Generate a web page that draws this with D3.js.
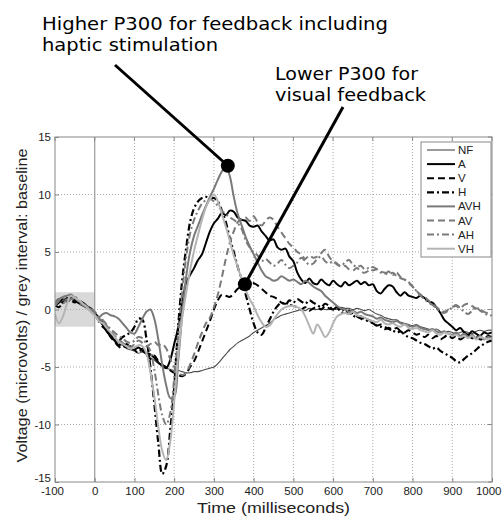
<!DOCTYPE html>
<html><head><meta charset="utf-8">
<script src="https://cdn.jsdelivr.net/npm/d3@7"></script>
<style>body{margin:0;background:#fff}svg{display:block}</style>
</head><body>
<svg id="c" width="502" height="519"></svg>
<script>
// time grid (ms), one sample every 10 ms
const times = d3.range(-100, 1001, 10);
const xTicks = [-100,0,100,200,300,400,500,600,700,800,900,1000];
const yTicks = [-15,-10,-5,0,5,10,15];
const seriesNames = ["NF","A","V","H","AVH","AV","AH","VH"];

const NF = [0.5,0.8,0.6,0.9,1.0,0.7,0.5,0.3,0.1,-0.2,
 -0.5,-0.9,-1.4,-1.8,-2.2,-2.6,-2.9,-3.1,-3.4,-3.5,
 -3.6,-3.8,-3.7,-3.9,-4.2,-4.4,-4.7,-4.9,-5.1,-5.2,
 -5.3,-5.3,-5.4,-5.5,-5.5,-5.4,-5.4,-5.3,-5.2,-5.1,
 -5.0,-4.7,-4.3,-3.9,-3.5,-3.2,-2.9,-2.7,-2.5,-2.3,
 -2.0,-1.8,-1.6,-1.4,-1.2,-0.9,-0.7,-0.5,-0.4,-0.3,
 -0.2,-0.1,0.0,-0.1,0.1,0.0,0.0,0.1,0.0,0.0,
 0.1,0.0,0.2,0.1,0.1,0.0,0.1,0.0,-0.1,0.0,
 -0.2,-0.4,-0.5,-0.7,-0.8,-0.9,-0.9,-1.1,-1.2,-1.3,
 -1.4,-1.3,-1.5,-1.6,-1.7,-1.8,-1.7,-1.9,-2.0,-1.9,
 -2.0,-2.1,-2.0,-1.9,-2.0,-2.1,-1.9,-1.8,-1.9,-1.8,
 -1.8];
const A = [0.3,0.6,0.9,0.7,1.0,0.8,0.6,0.6,0.3,0.1,
 -0.3,-0.8,-1.3,-1.9,-2.3,-2.7,-3.1,-3.0,-3.3,-3.2,
 -3.5,-3.3,-3.6,-3.8,-3.9,-4.2,-4.6,-4.9,-5.1,-4.4,
 -3.0,-1.6,0.5,2.3,3.0,3.6,4.3,4.8,5.8,6.8,
 7.5,7.9,8.4,8.2,8.6,8.5,8.0,7.8,7.7,7.3,
 7.2,7.3,6.8,6.4,6.0,6.1,5.4,5.2,5.3,4.6,
 4.2,3.2,2.6,2.3,2.7,2.3,2.2,2.6,2.3,2.1,
 2.5,2.2,2.0,2.4,2.1,2.3,2.5,2.2,2.4,2.1,
 2.2,1.6,1.4,1.8,2.1,2.0,1.5,1.2,1.5,1.2,
 1.1,1.0,1.2,1.0,0.7,0.6,0.2,-0.3,-0.9,-1.2,
 -1.5,-1.8,-1.6,-2.0,-2.2,-1.9,-2.1,-2.3,-2.0,-2.1,
 -2.0];
const V = [0.4,0.2,0.6,0.9,0.8,0.6,0.9,0.5,0.2,0.0,
 -0.4,-1.0,-1.5,-1.8,-2.4,-2.8,-3.2,-3.4,-3.0,-3.3,
 -3.5,-3.8,-3.4,-3.9,-4.3,-4.0,-4.5,-4.8,-5.0,-5.3,
 -5.5,-5.7,-5.8,-5.6,-5.0,-4.5,-3.7,-2.8,-1.9,-1.0,
 0.0,0.8,1.3,1.2,1.1,1.4,1.8,2.0,2.2,2.4,
 2.3,2.1,1.8,1.5,1.2,1.1,0.9,0.6,0.5,0.4,
 0.3,0.2,0.0,0.2,-0.1,0.1,0.2,0.0,0.3,0.1,
 0.0,-0.1,0.1,-0.2,-0.4,-0.3,-0.6,-0.8,-1.0,-0.9,
 -1.2,-1.4,-1.3,-1.5,-1.7,-1.8,-1.6,-1.9,-2.0,-1.8,
 -2.0,-2.2,-2.1,-2.4,-2.2,-2.5,-2.3,-2.6,-2.4,-2.2,
 -2.5,-2.3,-2.6,-2.4,-2.2,-2.5,-2.3,-2.6,-2.5,-2.3,
 -2.4];
const H = [0.5,0.9,0.6,1.0,0.7,0.9,0.6,0.4,0.2,0.0,
 -0.3,-0.7,-1.2,-1.8,-2.1,-2.5,-2.7,-2.4,-2.2,-2.0,
 -1.5,-0.8,-0.9,-2.5,-5.0,-8.2,-11.6,-14.3,-13.6,-10.5,
 -6.8,-1.5,2.5,5.3,7.6,8.8,9.4,9.7,9.8,9.7,
 9.7,9.4,8.6,7.6,6.2,5.0,3.7,2.6,1.3,0.0,
 -1.2,-2.0,-2.2,-1.6,-0.9,-0.2,0.3,0.6,0.4,0.8,
 0.6,0.9,0.7,0.5,0.8,0.6,0.4,0.2,0.5,0.3,
 0.0,0.2,-0.2,-0.3,-0.1,-0.5,-0.7,-0.6,-0.9,-1.0,
 -1.2,-1.4,-1.5,-1.7,-1.6,-1.8,-2.0,-1.9,-2.2,-2.4,
 -2.5,-2.7,-2.9,-3.0,-3.2,-3.4,-3.3,-3.6,-3.8,-4.0,
 -4.2,-4.5,-4.6,-4.3,-4.0,-3.8,-3.5,-3.2,-3.0,-2.8,
 -2.7];
const AVH = [0.6,0.9,1.1,1.2,1.3,1.0,0.7,0.5,0.2,0.0,
 -0.5,-0.7,-0.4,-0.3,-0.5,-0.6,-0.8,-1.2,-1.6,-2.0,
 -2.1,-1.5,-0.8,-0.2,0.0,-0.8,-2.6,-4.8,-6.6,-7.7,
 -7.6,-4.5,-0.5,2.8,5.0,6.4,7.3,8.2,9.0,9.8,
 10.5,11.3,12.0,12.5,11.6,9.8,8.3,7.3,6.3,5.5,
 4.8,4.1,3.4,2.9,2.7,2.5,2.6,2.9,2.7,2.5,
 2.6,2.4,2.2,2.5,2.3,2.0,1.8,1.6,1.2,0.9,
 0.6,0.3,0.1,0.0,-0.2,-0.1,-0.3,-0.2,-0.4,-0.5,
 -0.6,-0.8,-0.7,-0.9,-1.0,-1.1,-1.0,-1.2,-1.3,-1.4,
 -1.5,-1.4,-1.6,-1.7,-1.8,-1.7,-1.9,-2.0,-1.9,-2.1,
 -2.2,-2.0,-2.3,-2.1,-2.4,-2.2,-2.5,-2.3,-2.6,-2.4,
 -2.5];
const AV = [0.3,0.7,0.5,0.9,0.8,1.0,0.6,0.4,0.3,0.0,
 -0.3,-0.8,-1.0,-1.4,-1.9,-2.3,-2.6,-2.9,-3.1,-3.3,
 -3.0,-2.7,-2.9,-3.2,-3.0,-2.8,-3.1,-3.0,-3.4,-4.3,
 -5.0,-5.4,-5.7,-5.5,-4.8,-3.9,-2.9,-2.0,-1.2,-0.7,
 0.2,1.3,2.8,4.4,5.8,6.8,7.6,7.9,8.0,7.7,
 8.1,7.6,7.3,7.7,8.0,7.8,7.2,6.7,6.2,5.7,
 5.4,5.0,4.8,4.4,4.7,4.5,4.6,4.9,5.2,4.6,
 4.2,4.0,3.7,3.8,3.5,3.4,3.6,3.3,3.2,3.4,
 3.7,3.5,3.3,3.2,3.0,3.2,2.9,2.7,2.6,2.3,
 2.0,1.6,1.3,1.1,0.8,0.5,0.2,0.0,-0.2,0.0,
 0.2,0.3,0.1,0.4,0.5,0.3,0.1,0.0,-0.2,-0.3,
 -0.3];
const AH = [0.5,0.8,1.0,0.7,0.9,1.1,0.8,0.5,0.3,0.1,
 -0.2,-0.6,-0.9,-1.3,-1.7,-2.0,-2.3,-2.5,-2.8,-2.9,
 -2.7,-2.4,-2.5,-3.0,-3.6,-5.2,-7.4,-9.2,-10.0,-9.0,
 -6.0,-2.3,1.5,4.5,6.6,7.8,8.6,9.2,9.5,9.6,
 9.4,9.0,8.6,8.3,8.0,7.8,7.5,7.0,6.0,5.4,
 5.0,4.7,4.2,4.4,4.1,3.8,4.0,4.3,3.9,3.6,
 3.8,4.1,4.5,4.2,3.9,4.0,4.4,4.6,4.2,4.0,
 4.2,3.9,3.8,4.1,4.3,3.9,3.7,3.8,3.5,3.6,
 3.4,3.5,3.2,3.1,3.3,3.0,3.2,2.8,2.6,2.4,
 2.0,1.6,1.2,0.9,0.6,0.4,0.1,-0.2,-0.3,-0.1,
 0.2,0.4,0.1,-0.2,-0.4,-0.1,0.2,-0.1,-0.3,-0.5,
 -0.5];
const VH = [-0.4,-1.2,-0.6,0.5,1.2,1.0,0.8,0.5,0.2,-0.2,
 -0.5,-1.0,-1.2,-1.6,-2.0,-2.4,-2.8,-3.0,-3.2,-3.4,
 -3.3,-3.1,-3.2,-3.8,-5.4,-7.6,-10.2,-12.3,-13.1,-11.5,
 -8.0,-4.0,-0.8,1.4,3.4,5.1,6.5,7.8,8.9,9.6,
 10.0,9.4,8.3,7.2,6.0,4.7,3.7,2.6,1.7,0.9,
 0.3,-0.5,-1.1,-1.5,-1.4,-0.9,-0.4,0.0,0.2,0.3,
 0.3,0.2,0.0,-0.6,-1.4,-2.1,-1.3,-1.8,-2.4,-2.0,
 -1.2,-0.6,-0.4,-0.3,-0.4,-0.2,-0.5,-0.6,-0.7,-0.9,
 -1.0,-1.1,-0.9,-1.2,-1.3,-1.2,-1.4,-1.5,-1.3,-1.6,
 -1.7,-1.6,-1.8,-1.9,-2.0,-1.8,-2.1,-2.2,-2.0,-2.1,
 -2.3,-2.2,-2.4,-2.3,-2.5,-2.3,-2.6,-2.4,-2.5,-2.6,
 -2.5];
const seriesValues = [NF, A, V, H, AVH, AV, AH, VH];
const baselineInterval = [-100, 0];
const baselineBand = [-1.5, 1.5];
const annotations = [
  {lines:["Higher P300 for feedback including","haptic stimulation"], target:[335, 12.5]},
  {lines:["Lower P300 for","visual feedback"], target:[378, 2.2]}
];

// styles
const styles = [
  {c:"#4a4a4a", w:1.1, d:null},
  {c:"#000", w:2, d:null},
  {c:"#000", w:2, d:"7,4"},
  {c:"#000", w:2.2, d:"7,3,2,3"},
  {c:"#7a7a7a", w:2, d:null},
  {c:"#7a7a7a", w:2, d:"7,4"},
  {c:"#7a7a7a", w:2, d:"7,3,2,3"},
  {c:"#b4b4b4", w:2, d:null}
];

const L=55,R=492,T=137,B=482;
const svg = d3.select("#c");
const x = d3.scaleLinear().domain([-100,1000]).range([L,R]);
const y = d3.scaleLinear().domain([-15,15]).range([B,T]);

svg.append("defs").append("clipPath").attr("id","clip")
  .append("rect").attr("x",L).attr("y",T).attr("width",R-L).attr("height",B-T);

// baseline grey band
svg.append("rect").attr("x",x(baselineInterval[0])).attr("y",y(baselineBand[1]))
  .attr("width",x(baselineInterval[1])-x(baselineInterval[0]))
  .attr("height",y(baselineBand[0])-y(baselineBand[1])).attr("fill","#d9d9d9");

// grid
const g = svg.append("g");
xTicks.filter(t=>t>-100&&t<1000&&t!==0).forEach(t=>{
  g.append("line").attr("x1",x(t)).attr("x2",x(t)).attr("y1",T).attr("y2",B)
   .attr("stroke","#aaa").attr("stroke-width",1).attr("stroke-dasharray","1,2");
});
yTicks.filter(t=>t>-15&&t<15).forEach(t=>{
  g.append("line").attr("x1",L).attr("x2",R).attr("y1",y(t)).attr("y2",y(t))
   .attr("stroke","#aaa").attr("stroke-width",1).attr("stroke-dasharray","1,2");
});
// zero time line
svg.append("line").attr("x1",x(0)).attr("x2",x(0)).attr("y1",T).attr("y2",B)
  .attr("stroke","#999").attr("stroke-width",1.2);

// series
const line = d3.line().x((d,i)=>x(times[i])).y(d=>y(d)).curve(d3.curveCatmullRom);
const lg = svg.append("g").attr("clip-path","url(#clip)");
seriesValues.forEach((vals,k)=>{
  const s = styles[k];
  lg.append("path").attr("d",line(vals)).attr("fill","none")
    .attr("stroke",s.c).attr("stroke-width",s.w)
    .attr("stroke-dasharray",s.d).attr("stroke-linejoin","round");
});

// frame
svg.append("rect").attr("x",L).attr("y",T).attr("width",R-L).attr("height",B-T)
  .attr("fill","none").attr("stroke","#888").attr("stroke-width",1);

// axes
const fontAx = "'Liberation Sans', Arial, sans-serif";
const fmt = d => String(d);
const xa = svg.append("g").attr("transform",`translate(0,${B})`)
  .call(d3.axisBottom(x).tickValues(xTicks).tickFormat(fmt).tickSizeInner(-4).tickSizeOuter(0).tickPadding(5));
const ya = svg.append("g").attr("transform",`translate(${L},0)`)
  .call(d3.axisLeft(y).tickValues(yTicks).tickFormat(fmt).tickSizeInner(-4).tickSizeOuter(0).tickPadding(4));
[xa,ya].forEach(a=>{
  a.select(".domain").remove();
  a.selectAll("line").attr("stroke","#888");
  a.selectAll("text").attr("font-family",fontAx).attr("font-size",11.5).attr("fill","#222");
});
// MATLAB-like nudges: lowest y label raised, first x label shifted left, last x label kept inside
ya.selectAll(".tick").filter(d=>d===-15).select("text").attr("dy","-0.05em");
xa.selectAll(".tick").filter(d=>d===-100).select("text").attr("dx","-3");
xa.selectAll(".tick").filter(d=>d===1000).select("text").attr("text-anchor","end").attr("x",9);
// top/right ticks
xTicks.forEach(t=>svg.append("line").attr("x1",x(t)).attr("x2",x(t)).attr("y1",T).attr("y2",T+4).attr("stroke","#888"));
yTicks.forEach(t=>svg.append("line").attr("x1",R).attr("x2",R-4).attr("y1",y(t)).attr("y2",y(t)).attr("stroke","#888"));

svg.append("text").attr("x",(L+R)/2).attr("y",513).attr("text-anchor","middle")
  .attr("font-family",fontAx).attr("font-size",15.5).attr("fill","#222")
  .attr("textLength",153).attr("lengthAdjust","spacingAndGlyphs").text("Time (milliseconds)");
svg.append("text").attr("transform",`translate(27,305.5) rotate(-90)`).attr("text-anchor","middle")
  .attr("font-family",fontAx).attr("font-size",15.5).attr("fill","#222")
  .attr("textLength",314).attr("lengthAdjust","spacingAndGlyphs")
  .text("Voltage (microvolts) / grey interval: baseline");

// legend
const lgX=421, lgY=142, lgW=70, lgH=115, step=14.1;
svg.append("rect").attr("x",lgX).attr("y",lgY).attr("width",lgW).attr("height",lgH)
  .attr("fill","#fff").attr("stroke","#888").attr("stroke-width",1);
seriesNames.forEach((n,k)=>{
  const s=styles[k], yy=lgY+8+k*step;
  svg.append("line").attr("x1",427).attr("x2",455).attr("y1",yy).attr("y2",yy)
    .attr("stroke",s.c).attr("stroke-width",s.w).attr("stroke-dasharray",s.d);
  svg.append("text").attr("x",458).attr("y",yy+4).attr("font-family",fontAx)
    .attr("font-size",11.5).attr("fill","#222").text(n);
});

// annotations
const fontAn = "'DejaVu Sans', Verdana, sans-serif";
const annPos = [
  {tx:42, ty:29.5, dy:21.5, lx:115, ly:65, widths:[346,176]},
  {tx:275, ty:79.5, dy:21.5, lx:343, ly:107, widths:[143,151]}
];
annotations.forEach((a,i)=>{
  const p = annPos[i];
  a.lines.forEach((s,j)=>svg.append("text").attr("x",p.tx).attr("y",p.ty+j*p.dy)
    .attr("font-family",fontAn).attr("font-size",18.3).attr("fill","#000")
    .attr("textLength",p.widths[j]).attr("lengthAdjust","spacingAndGlyphs").text(s));
  svg.append("line").attr("x1",p.lx).attr("y1",p.ly).attr("x2",x(a.target[0])).attr("y2",y(a.target[1]))
    .attr("stroke","#000").attr("stroke-width",3);
  svg.append("circle").attr("cx",x(a.target[0])).attr("cy",y(a.target[1])).attr("r",7).attr("fill","#000");
});
</script>
</body></html>
